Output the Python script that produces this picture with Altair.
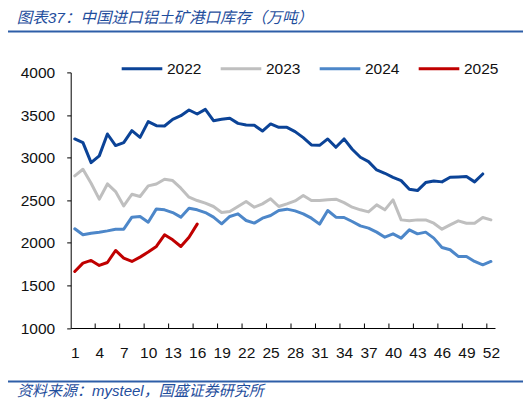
import altair as alt
import pandas as pd

# ---------------- data ----------------
years = ["2022", "2023", "2024", "2025"]
colors = ["#0B4397", "#BFBFBF", "#4D87C9", "#C00000"]

v2022 = [3219, 3176, 2941, 3020, 3277, 3141, 3176, 3316, 3238, 3422,
         3375, 3371, 3449, 3492, 3559, 3512, 3566, 3433, 3449, 3461,
         3402, 3383, 3379, 3312, 3395, 3355, 3355, 3305, 3234, 3148,
         3144, 3219, 3121, 3219, 3098, 3004, 2953, 2855, 2816, 2769,
         2730, 2629, 2613, 2707, 2726, 2715, 2769, 2773, 2777, 2715, 2808]
v2023 = [2785, 2863, 2699, 2512, 2691, 2601, 2433, 2570, 2543, 2668,
         2691, 2746, 2730, 2641, 2535, 2496, 2465, 2426, 2355, 2367,
         2426, 2484, 2418, 2457, 2516, 2426, 2457, 2492, 2555, 2496,
         2496, 2504, 2512, 2472, 2418, 2387, 2363, 2445, 2387, 2504,
         2269, 2258, 2269, 2269, 2230, 2160, 2211, 2258, 2230, 2230, 2297, 2269]
v2024 = [2164, 2094, 2113, 2125, 2140, 2160, 2160, 2301, 2309, 2242,
         2398, 2387, 2355, 2301, 2406, 2387, 2355, 2301, 2223, 2309,
         2340, 2262, 2231, 2289, 2320, 2379, 2395, 2375, 2340, 2289,
         2219, 2379, 2301, 2297, 2250, 2199, 2172, 2125, 2066, 2105,
         2055, 2152, 2105, 2125, 2055, 1945, 1918, 1840, 1840, 1781, 1742, 1781]
v2025 = [1664, 1762, 1793, 1734, 1769, 1910, 1820, 1781, 1832, 1891,
         1957, 2094, 2035, 1957, 2066, 2219]

week_labels = list(range(1, 53, 3))          # 1, 4, 7, ... 52
y_labels = [1000, 1500, 2000, 2500, 3000, 3500, 4000]

title_text = "图表37：中国进口铝土矿港口库存（万吨）"
source_text = "资料来源：mysteel，国盛证券研究所"

series = {"2022": v2022, "2023": v2023, "2024": v2024, "2025": v2025}
rows = []
for name, vals in series.items():
    for i, v in enumerate(vals):
        rows.append({"week": i + 1, "value": v, "year": name})
df = pd.DataFrame(rows)

# ---------------- layout ----------------
W, H = 424.3, 255.6
PL, PT = 62.7, 64.4
PB = 74
FONT = "Liberation Sans"
MIXED = "Liberation Sans, Noto Sans CJK SC"
BLUE = "#1F4E9D"

xscale = alt.Scale(domain=[0.5, 52.5], nice=False, zero=False)
yscale = alt.Scale(domain=[1000, 4000], nice=False, zero=False)

xaxis = alt.Axis(values=week_labels, ticks=False, labelPadding=17, grid=False,
                 title=None, format="d", domainColor="#000", domainWidth=1,
                 labelFont=FONT, labelFontSize=15.5, labelColor="#111",
                 labelOverlap=False, labelFlush=False, labelBound=False)

lines = alt.Chart(df).mark_line(strokeWidth=3, strokeCap="round", strokeJoin="round").encode(
    x=alt.X("week:Q", scale=xscale, axis=xaxis),
    y=alt.Y("value:Q", scale=yscale,
            axis=alt.Axis(values=y_labels, tickSize=4, tickColor="#000", labelPadding=12,
                          grid=False, title=None, format="d", domainColor="#000",
                          domainWidth=1, labelFont=FONT, labelFontSize=15.5,
                          labelColor="#111")),
    color=alt.Color("year:N", scale=alt.Scale(domain=years, range=colors),
                    legend=alt.Legend(orient="none", legendX=49.3, legendY=-26,
                                      direction="horizontal", columns=4, columnPadding=12,
                                      symbolType="stroke", symbolSize=1650,
                                      symbolStrokeWidth=3, labelFont=FONT,
                                      labelFontSize=15.5, labelColor="#111",
                                      labelOffset=3, title=None, padding=0)),
)

tick_df = pd.DataFrame({"week": [w - 0.5 for w in week_labels[1:]]})
xticks = alt.Chart(tick_df).mark_rule(color="#000", strokeWidth=1).encode(
    x=alt.X("week:Q", scale=xscale, axis=xaxis),
    y=alt.value(H - 4.5),
    y2=alt.value(H),
)

title = alt.Chart(pd.DataFrame({"t": [title_text]})).mark_text(
    font=MIXED, fontSize=15.5, fontStyle="italic", color=BLUE, align="left", baseline="alphabetic"
).encode(text="t:N", x=alt.value(-54), y=alt.value(-49.9))

source = alt.Chart(pd.DataFrame({"t": [source_text]})).mark_text(
    font=MIXED, fontSize=15, fontStyle="italic", color=BLUE, align="left", baseline="alphabetic"
).encode(text="t:N", x=alt.value(-53.7), y=alt.value(323.6))

one = pd.DataFrame({"k": [0]})
top_rule = alt.Chart(one).mark_rule(color="#2E5EA8", strokeWidth=2).encode(
    x=alt.value(-PL), x2=alt.value(W + 28), y=alt.value(-40.8))
bot_rule = alt.Chart(one).mark_rule(color="#2E5EA8", strokeWidth=2).encode(
    x=alt.value(-PL), x2=alt.value(W + 28), y=alt.value(309.2))

chart = alt.layer(lines, xticks, title, source, top_rule, bot_rule).properties(
    width=W, height=H,
    autosize=alt.AutoSizeParams(type="none"),
    padding={"left": PL, "top": PT, "right": 28, "bottom": PB},
    background="white",
).configure_view(stroke=None)

chart.save("out.html", embed_options={"renderer": "svg", "actions": False})
